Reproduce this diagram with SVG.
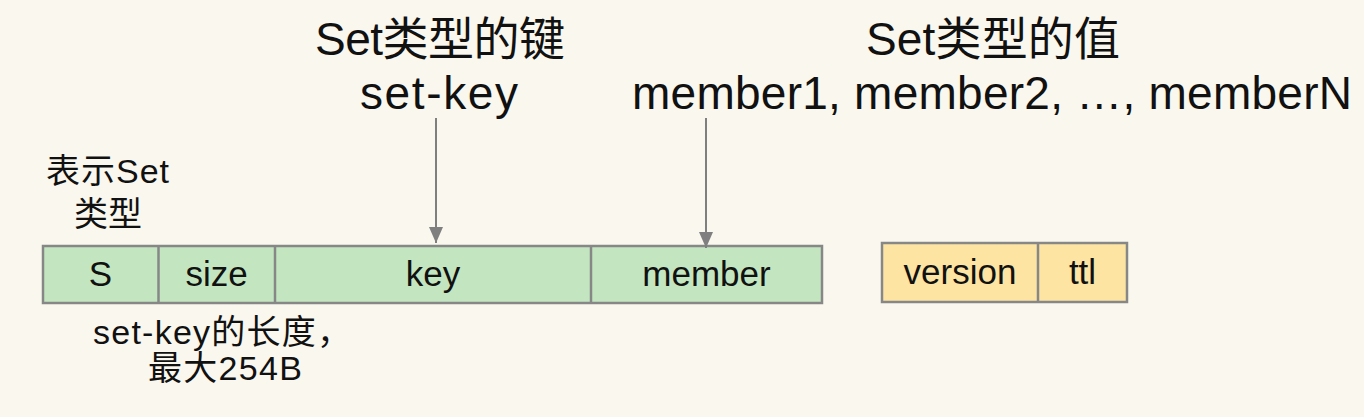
<svg xmlns="http://www.w3.org/2000/svg" width="1364" height="417" viewBox="0 0 1364 417">
<style>
  text { font-family: "Liberation Sans", "Noto Sans CJK SC", sans-serif; fill: #111; }
  .big { font-size: 46px; text-anchor: middle; }
  .small { font-size: 34px; }
  .cell { font-size: 35px; text-anchor: middle; }
  .green { fill: #c3e6c0; stroke: #878787; stroke-width: 2.5; }
  .yellow { fill: #fde4a2; stroke: #878787; stroke-width: 2.5; }
  .div { stroke: #878787; stroke-width: 2.5; }
  .conn { stroke: #7f7f7f; stroke-width: 2; fill: none; marker-end: url(#arrow); }
</style>
<defs>
  <marker id="arrow" viewBox="0 0 16 14" refX="16" refY="7" markerWidth="16" markerHeight="14" markerUnits="userSpaceOnUse" orient="auto">
    <path d="M0,0 L16,7 L0,14 Z" fill="#7f7f7f"/>
  </marker>
</defs>
<rect width="1364" height="417" fill="#f9f7ee"/>

<g id="title-key">
  <text class="big" x="440" y="55" textLength="250">Set类型的键</text>
  <text class="big" x="439" y="109" textLength="158">set-key</text>
</g>
<g id="title-value">
  <text class="big" x="993" y="55" textLength="254">Set类型的值</text>
  <text class="big" x="992" y="109" textLength="720">member1, member2, …, memberN</text>
</g>
<g id="label-type">
  <text class="small" x="46" y="183" textLength="123">表示Set</text>
  <text class="small" x="74" y="226">类型</text>
</g>
<g id="label-size">
  <text class="small" x="93" y="344" textLength="258">set-key的长度，</text>
  <text class="small" x="148" y="380" textLength="154">最大254B</text>
</g>

<g id="key-record">
  <rect class="green" x="43" y="246" width="779" height="57"/>
  <line class="div" x1="158.5" y1="246" x2="158.5" y2="303"/>
  <line class="div" x1="275" y1="246" x2="275" y2="303"/>
  <line class="div" x1="591" y1="246" x2="591" y2="303"/>
  <text class="cell" x="100.5" y="286">S</text>
  <text class="cell" x="216.5" y="286">size</text>
  <text class="cell" x="433" y="286">key</text>
  <text class="cell" x="706.5" y="286">member</text>
</g>

<g id="value-record">
  <rect class="yellow" x="882" y="243" width="245" height="59"/>
  <line class="div" x1="1038" y1="243" x2="1038" y2="302"/>
  <text class="cell" x="960" y="284">version</text>
  <text class="cell" x="1082.5" y="284">ttl</text>
</g>

<g id="connectors">
  <line class="conn" x1="436" y1="118" x2="436" y2="243"/>
  <line class="conn" x1="706" y1="118" x2="706" y2="248"/>
</g>
</svg>
